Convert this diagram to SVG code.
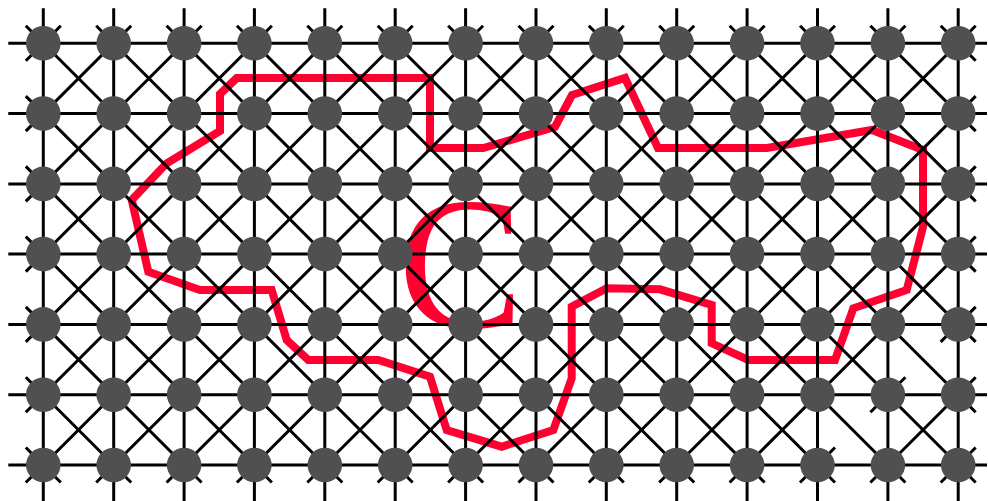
<svg xmlns="http://www.w3.org/2000/svg" width="988" height="501" viewBox="0 0 988 501">
<style>
.bg{fill:#ffffff}
.ln{stroke:#000000;stroke-width:3;fill:none}
.rd{stroke:#ff0030;stroke-width:8;fill:none;stroke-linejoin:miter}
.nd circle{fill:#505050}
.lbl{font-family:"Liberation Serif","Times New Roman",serif;font-size:188px;fill:#ff0030}
</style>
<rect class="bg" x="0" y="0" width="988" height="501"/>
<g id="region">
<path class="rd" d="M236.7 78 L430 78 L430 148 L483.3 148 L555 127 L572 95 L625 78 L658 148 L767 148 L872 130 L923 150 L923 227 L906.7 290 L853.3 308.3 L835 360 L748.3 360 L711.7 343.3 L711.7 305 L660 289.3 L606.7 288.3 L571.7 306.7 L571.7 378.3 L553.3 430 L501.7 446.7 L446.7 430 L430 376.7 L378.3 360 L308.3 360 L286.7 340 L271.7 290 L200 290 L148.3 271.7 L131.7 200 L166.7 163.3 L220 131 L220 94 Z"/>
<text id="label-C" class="lbl" x="398" y="327">C</text>
</g>
<g id="connectors" class="ln">
<path d="M8.3 43.3 H987 M8.3 113.6 H987 M8.3 183.9 H987 M8.3 254.1 H987 M8.3 324.4 H987 M8.3 394.7 H987 M8.3 465 H987"/>
<path d="M43.3 8.3 V501 M113.7 8.3 V501 M184.1 8.3 V501 M254.4 8.3 V501 M324.8 8.3 V501 M395.2 8.3 V501 M465.6 8.3 V501 M536 8.3 V501 M606.3 8.3 V501 M676.7 8.3 V501 M747.1 8.3 V501 M817.5 8.3 V501 M887.9 8.3 V501 M958.2 8.3 V501"/>
<path d="M25.8 447.5 L60.8 482.5 M25.8 377.2 L131.2 482.5 M25.8 306.9 L201.6 482.5 M25.8 236.6 L271.9 482.5 M25.8 166.4 L342.3 482.5 M25.8 96.1 L412.7 482.5 M25.8 25.8 L483.1 482.5 M96.2 25.8 L553.5 482.5 M166.6 25.8 L623.8 482.5 M236.9 25.8 L694.2 482.5 M307.3 25.8 L764.6 482.5 M377.7 25.8 L835 482.5 M448.1 25.8 L905.4 482.5 M518.5 25.8 L975.7 482.5 M588.8 25.8 L975.7 412.2 M659.2 25.8 L975.7 341.9 M729.6 25.8 L975.7 271.6 M800 25.8 L975.7 201.4 M870.4 25.8 L975.7 131.1 M940.7 25.8 L975.7 60.8"/>
<path d="M25.8 60.8 L60.8 25.8 M25.8 131.1 L131.2 25.8 M25.8 201.4 L201.6 25.8 M25.8 271.6 L271.9 25.8 M25.8 341.9 L342.3 25.8 M25.8 412.2 L412.7 25.8 M25.8 482.5 L483.1 25.8 M96.2 482.5 L553.5 25.8 M166.6 482.5 L623.8 25.8 M236.9 482.5 L694.2 25.8 M307.3 482.5 L764.6 25.8 M377.7 482.5 L835 25.8 M448.1 482.5 L905.4 25.8 M518.5 482.5 L975.7 25.8 M588.8 482.5 L975.7 96.1 M659.2 482.5 L975.7 166.4 M729.6 482.5 L975.7 236.6 M800 482.5 L835 447.5 M870.4 412.2 L905.4 377.2 M940.7 341.9 L975.7 306.9 M870.4 482.5 L975.7 377.2 M940.7 482.5 L975.7 447.5"/>
</g>
<g class="nd">
<g id="n0-0"><circle cx="43.3" cy="43.3" r="17.3"/></g>
<g id="n1-0"><circle cx="113.7" cy="43.3" r="17.3"/></g>
<g id="n2-0"><circle cx="184.1" cy="43.3" r="17.3"/></g>
<g id="n3-0"><circle cx="254.4" cy="43.3" r="17.3"/></g>
<g id="n4-0"><circle cx="324.8" cy="43.3" r="17.3"/></g>
<g id="n5-0"><circle cx="395.2" cy="43.3" r="17.3"/></g>
<g id="n6-0"><circle cx="465.6" cy="43.3" r="17.3"/></g>
<g id="n7-0"><circle cx="536" cy="43.3" r="17.3"/></g>
<g id="n8-0"><circle cx="606.3" cy="43.3" r="17.3"/></g>
<g id="n9-0"><circle cx="676.7" cy="43.3" r="17.3"/></g>
<g id="n10-0"><circle cx="747.1" cy="43.3" r="17.3"/></g>
<g id="n11-0"><circle cx="817.5" cy="43.3" r="17.3"/></g>
<g id="n12-0"><circle cx="887.9" cy="43.3" r="17.3"/></g>
<g id="n13-0"><circle cx="958.2" cy="43.3" r="17.3"/></g>
<g id="n0-1"><circle cx="43.3" cy="113.6" r="17.3"/></g>
<g id="n1-1"><circle cx="113.7" cy="113.6" r="17.3"/></g>
<g id="n2-1"><circle cx="184.1" cy="113.6" r="17.3"/></g>
<g id="n3-1"><circle cx="254.4" cy="113.6" r="17.3"/></g>
<g id="n4-1"><circle cx="324.8" cy="113.6" r="17.3"/></g>
<g id="n5-1"><circle cx="395.2" cy="113.6" r="17.3"/></g>
<g id="n6-1"><circle cx="465.6" cy="113.6" r="17.3"/></g>
<g id="n7-1"><circle cx="536" cy="113.6" r="17.3"/></g>
<g id="n8-1"><circle cx="606.3" cy="113.6" r="17.3"/></g>
<g id="n9-1"><circle cx="676.7" cy="113.6" r="17.3"/></g>
<g id="n10-1"><circle cx="747.1" cy="113.6" r="17.3"/></g>
<g id="n11-1"><circle cx="817.5" cy="113.6" r="17.3"/></g>
<g id="n12-1"><circle cx="887.9" cy="113.6" r="17.3"/></g>
<g id="n13-1"><circle cx="958.2" cy="113.6" r="17.3"/></g>
<g id="n0-2"><circle cx="43.3" cy="183.9" r="17.3"/></g>
<g id="n1-2"><circle cx="113.7" cy="183.9" r="17.3"/></g>
<g id="n2-2"><circle cx="184.1" cy="183.9" r="17.3"/></g>
<g id="n3-2"><circle cx="254.4" cy="183.9" r="17.3"/></g>
<g id="n4-2"><circle cx="324.8" cy="183.9" r="17.3"/></g>
<g id="n5-2"><circle cx="395.2" cy="183.9" r="17.3"/></g>
<g id="n6-2"><circle cx="465.6" cy="183.9" r="17.3"/></g>
<g id="n7-2"><circle cx="536" cy="183.9" r="17.3"/></g>
<g id="n8-2"><circle cx="606.3" cy="183.9" r="17.3"/></g>
<g id="n9-2"><circle cx="676.7" cy="183.9" r="17.3"/></g>
<g id="n10-2"><circle cx="747.1" cy="183.9" r="17.3"/></g>
<g id="n11-2"><circle cx="817.5" cy="183.9" r="17.3"/></g>
<g id="n12-2"><circle cx="887.9" cy="183.9" r="17.3"/></g>
<g id="n13-2"><circle cx="958.2" cy="183.9" r="17.3"/></g>
<g id="n0-3"><circle cx="43.3" cy="254.1" r="17.3"/></g>
<g id="n1-3"><circle cx="113.7" cy="254.1" r="17.3"/></g>
<g id="n2-3"><circle cx="184.1" cy="254.1" r="17.3"/></g>
<g id="n3-3"><circle cx="254.4" cy="254.1" r="17.3"/></g>
<g id="n4-3"><circle cx="324.8" cy="254.1" r="17.3"/></g>
<g id="n5-3"><circle cx="395.2" cy="254.1" r="17.3"/></g>
<g id="n6-3"><circle cx="465.6" cy="254.1" r="17.3"/></g>
<g id="n7-3"><circle cx="536" cy="254.1" r="17.3"/></g>
<g id="n8-3"><circle cx="606.3" cy="254.1" r="17.3"/></g>
<g id="n9-3"><circle cx="676.7" cy="254.1" r="17.3"/></g>
<g id="n10-3"><circle cx="747.1" cy="254.1" r="17.3"/></g>
<g id="n11-3"><circle cx="817.5" cy="254.1" r="17.3"/></g>
<g id="n12-3"><circle cx="887.9" cy="254.1" r="17.3"/></g>
<g id="n13-3"><circle cx="958.2" cy="254.1" r="17.3"/></g>
<g id="n0-4"><circle cx="43.3" cy="324.4" r="17.3"/></g>
<g id="n1-4"><circle cx="113.7" cy="324.4" r="17.3"/></g>
<g id="n2-4"><circle cx="184.1" cy="324.4" r="17.3"/></g>
<g id="n3-4"><circle cx="254.4" cy="324.4" r="17.3"/></g>
<g id="n4-4"><circle cx="324.8" cy="324.4" r="17.3"/></g>
<g id="n5-4"><circle cx="395.2" cy="324.4" r="17.3"/></g>
<g id="n6-4"><circle cx="465.6" cy="324.4" r="17.3"/></g>
<g id="n7-4"><circle cx="536" cy="324.4" r="17.3"/></g>
<g id="n8-4"><circle cx="606.3" cy="324.4" r="17.3"/></g>
<g id="n9-4"><circle cx="676.7" cy="324.4" r="17.3"/></g>
<g id="n10-4"><circle cx="747.1" cy="324.4" r="17.3"/></g>
<g id="n11-4"><circle cx="817.5" cy="324.4" r="17.3"/></g>
<g id="n12-4"><circle cx="887.9" cy="324.4" r="17.3"/></g>
<g id="n13-4"><circle cx="958.2" cy="324.4" r="17.3"/></g>
<g id="n0-5"><circle cx="43.3" cy="394.7" r="17.3"/></g>
<g id="n1-5"><circle cx="113.7" cy="394.7" r="17.3"/></g>
<g id="n2-5"><circle cx="184.1" cy="394.7" r="17.3"/></g>
<g id="n3-5"><circle cx="254.4" cy="394.7" r="17.3"/></g>
<g id="n4-5"><circle cx="324.8" cy="394.7" r="17.3"/></g>
<g id="n5-5"><circle cx="395.2" cy="394.7" r="17.3"/></g>
<g id="n6-5"><circle cx="465.6" cy="394.7" r="17.3"/></g>
<g id="n7-5"><circle cx="536" cy="394.7" r="17.3"/></g>
<g id="n8-5"><circle cx="606.3" cy="394.7" r="17.3"/></g>
<g id="n9-5"><circle cx="676.7" cy="394.7" r="17.3"/></g>
<g id="n10-5"><circle cx="747.1" cy="394.7" r="17.3"/></g>
<g id="n11-5"><circle cx="817.5" cy="394.7" r="17.3"/></g>
<g id="n12-5"><circle cx="887.9" cy="394.7" r="17.3"/></g>
<g id="n13-5"><circle cx="958.2" cy="394.7" r="17.3"/></g>
<g id="n0-6"><circle cx="43.3" cy="465" r="17.3"/></g>
<g id="n1-6"><circle cx="113.7" cy="465" r="17.3"/></g>
<g id="n2-6"><circle cx="184.1" cy="465" r="17.3"/></g>
<g id="n3-6"><circle cx="254.4" cy="465" r="17.3"/></g>
<g id="n4-6"><circle cx="324.8" cy="465" r="17.3"/></g>
<g id="n5-6"><circle cx="395.2" cy="465" r="17.3"/></g>
<g id="n6-6"><circle cx="465.6" cy="465" r="17.3"/></g>
<g id="n7-6"><circle cx="536" cy="465" r="17.3"/></g>
<g id="n8-6"><circle cx="606.3" cy="465" r="17.3"/></g>
<g id="n9-6"><circle cx="676.7" cy="465" r="17.3"/></g>
<g id="n10-6"><circle cx="747.1" cy="465" r="17.3"/></g>
<g id="n11-6"><circle cx="817.5" cy="465" r="17.3"/></g>
<g id="n12-6"><circle cx="887.9" cy="465" r="17.3"/></g>
<g id="n13-6"><circle cx="958.2" cy="465" r="17.3"/></g>
</g>
</svg>
